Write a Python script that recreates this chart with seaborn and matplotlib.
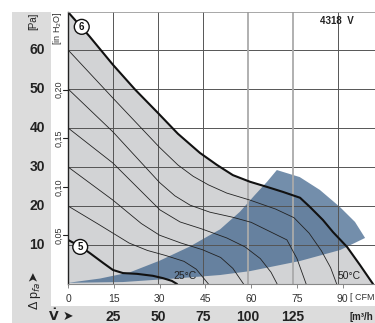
import matplotlib
matplotlib.use('Agg')
import matplotlib.pyplot as plt
import matplotlib.transforms as mtransforms
from matplotlib.patches import Rectangle
import seaborn as sns
import pandas as pd

sns.set_theme(style='white')
plt.rcParams['font.family'] = ['Liberation Sans', 'DejaVu Sans']
plt.rcParams['mathtext.fontset'] = 'dejavusans'

# ---------------- data ----------------
CFM_TICKS = [0, 15, 30, 45, 60, 75, 90]
M3H_LABELS = [25, 50, 75, 100, 125]
M3H_GRID = [25, 50, 75, 100, 125, 150]
PA_LABELS = [10, 20, 30, 40, 50, 60]
INH2O_LABELS = [0.05, 0.10, 0.15, 0.20]

# curve 6 (max speed, 50 degC)
C6_Q = [0, 7, 14.7, 22, 29.5, 36, 43.2, 48.8, 54.0, 59.6, 65.1, 70.4, 76.0, 79.3, 83.5, 86.8, 91.4, 95.6, 99.9]
C6_P = [69.7, 63.5, 56.2, 49.8, 43.8, 38.5, 33.6, 30.5, 27.9, 26.2, 24.9, 23.6, 22.1, 19.7, 16.4, 13.3, 9.5, 4.9, 0]
# intermediate speed curves
L1_Q = [0, 15, 30, 36, 41, 46, 52, 59.6, 68, 74, 79, 83, 86, 88]
L1_P = [60, 47.4, 35, 30.5, 27.6, 25.4, 23.3, 21.5, 19.2, 17.0, 13.0, 8.5, 4.2, 0]
L2_Q = [0, 14.7, 30, 35, 40, 46.5, 54, 60, 65.2, 71.7, 75, 78]
L2_P = [50, 39, 26, 22.6, 20.2, 18.4, 17.1, 15.8, 13.8, 11.3, 6.5, 0]
L3_Q = [0, 14.7, 30.1, 36.7, 43.5, 52, 58, 63, 66.5, 68.5]
L3_P = [40, 31, 19, 15.9, 14.2, 11.8, 9.5, 6.5, 3, 0]
L4_Q = [0, 14.7, 24, 30, 37, 44, 50, 54, 57.5]
L4_P = [30, 21.5, 15.5, 12.5, 10.5, 8.8, 6.8, 4, 0]
L5_Q = [0, 10, 20, 26, 32, 38, 42, 46]
L5_P = [20, 15.3, 10.5, 8.6, 7.3, 5.8, 3.8, 0]
# curve 5 (min speed, 25 degC)
C5_Q = [0, 4.3, 7.2, 11.5, 14.7, 18, 22.6, 27.8, 31.1, 34, 35.7]
C5_P = [11.3, 9.5, 7.9, 5.4, 3.6, 2.8, 2.6, 2.1, 1.5, 0.8, 0]

# operating range (blue area)
BLUE_UPPER_Q = [0, 10.5, 20.3, 30.1, 39.9, 49.8, 56.3, 61.2, 65.2, 68.4]
BLUE_UPPER_P = [0.3, 1.4, 3.0, 6.0, 9.6, 14.0, 18.5, 22.8, 26.2, 29.2]
BLUE_ARC_Q = [68.4, 75.9, 82.5, 89.1, 94.0, 97.3]
BLUE_ARC_P = [29.2, 27.4, 24.1, 19.7, 15.9, 11.8]
BLUE_LOWER_Q = [97.3, 89.1, 76.0, 59.6, 49.8, 36.7, 18.0, 0]
BLUE_LOWER_P = [11.8, 8.7, 5.9, 3.3, 2.3, 1.5, 0.5, 0.3]

CFM_PER_M3H = 1 / 1.699
PA_PER_INH2O = 249.09

W, H = 375, 323
fig = plt.figure(figsize=(W / 100, H / 100), dpi=100)
fig.patch.set_facecolor('white')

# grey label strips
fig.add_artist(Rectangle((12 / W, 1 - 306 / H), (51 - 12) / W, (306 - 12) / H,
                         transform=fig.transFigure, fc='#dcdcdc', ec='none', zorder=0))
fig.add_artist(Rectangle((12 / W, 0), (W - 12) / W, (H - 306) / H,
                         transform=fig.transFigure, fc='#dcdcdc', ec='none', zorder=0))

ax = fig.add_axes([68 / W, (H - 284) / H, (W - 68) / W, (284 - 12) / H])
ax.set_facecolor('white')
ax.set_xlim(0, 100.55)
ax.set_ylim(0, 69.7)

# grey area under max curve
ax.fill_between(C6_Q, C6_P, 0, color='#d2d3d5', lw=0, zorder=1)

# blue operating range
bq = BLUE_UPPER_Q + BLUE_ARC_Q[1:] + BLUE_LOWER_Q[1:]
bp = BLUE_UPPER_P + BLUE_ARC_P[1:] + BLUE_LOWER_P[1:]
ax.fill(bq, bp, color='#385f88', alpha=0.7, lw=0, zorder=2)

# grid
for p in PA_LABELS:
    ax.axhline(p, color='#555555', lw=0.7, zorder=3)
for m in M3H_GRID:
    q = m * CFM_PER_M3H
    if m in (100, 125):
        ax.axvline(q, color='#aaaaaa', lw=1.3, zorder=3)
    else:
        ax.axvline(q, color='#555555', lw=0.7, zorder=3)

# curves
for qs, ps in [(L1_Q, L1_P), (L2_Q, L2_P), (L3_Q, L3_P), (L4_Q, L4_P), (L5_Q, L5_P)]:
    df = pd.DataFrame({'q': qs, 'p': ps})
    sns.lineplot(data=df, x='q', y='p', sort=False, estimator=None, ax=ax,
                 color='#222222', lw=0.6, zorder=4)
for qs, ps in [(C6_Q, C6_P), (C5_Q, C5_P)]:
    df = pd.DataFrame({'q': qs, 'p': ps})
    sns.lineplot(data=df, x='q', y='p', sort=False, estimator=None, ax=ax,
                 color='#111111', lw=1.5, zorder=5)

ax.set_xlabel('')
ax.set_ylabel('')

# spines
for s in ax.spines.values():
    s.set_visible(True)
    s.set_zorder(6)
ax.spines['right'].set_visible(False)
ax.spines['left'].set_color('#222222')
ax.spines['left'].set_linewidth(1.0)
ax.spines['bottom'].set_color('#888888')
ax.spines['bottom'].set_linewidth(0.8)
ax.spines['top'].set_color('#999999')
ax.spines['top'].set_linewidth(0.6)

ax.set_xticks(CFM_TICKS)
ax.set_xticklabels([str(c) for c in CFM_TICKS])
ax.set_yticks([])
ax.tick_params(axis='x', direction='out', length=3, width=0.7, color='#888888',
               labelsize=7.5, labelcolor='#333333', pad=4, bottom=True)
fig.text(350 / W, 1 - 297 / H, '[ CFM', ha='left', va='center', fontsize=6.5, color='#333333')

# pressure labels on the left strip
tr_fig_data = mtransforms.blended_transform_factory(fig.transFigure, ax.transData)
for p in PA_LABELS:
    fig.text(37 / W, p, str(p), transform=tr_fig_data, ha='center', va='center',
             fontsize=10, fontweight='bold', color='#222222')
fig.text(33 / W, 1 - 21 / H, '[Pa]', rotation=90, ha='center', va='center',
         fontsize=7, color='#222222')

# in H2O labels
tr_ax_data = mtransforms.blended_transform_factory(ax.transAxes, ax.transData)
for v in INH2O_LABELS:
    y = v * PA_PER_INH2O
    fig.text(58.5 / W, y, ('%.2f' % v).replace('.', ','), transform=tr_fig_data,
             rotation=90, ha='center', va='center', fontsize=6.5, color='#333333')
    ax.plot([-0.015, 0], [y, y], transform=tr_ax_data, clip_on=False,
            color='#222222', lw=0.8, zorder=6)
fig.text(58 / W, 1 - 28 / H, '[in H$_2$O]', rotation=90, ha='center', va='center',
         fontsize=6.5, color='#333333')

# delta p label
fig.text(33 / W, 1 - 276 / H, '\u27a4', rotation=90, ha='center', va='center',
         fontsize=9, color='#222222', family='DejaVu Sans')
fig.text(35 / W, 1 - 296 / H, '\u0394 p$_{fa}$', rotation=90, ha='center', va='center',
         fontsize=9, color='#222222')

# bottom m3/h labels
tr_data_fig = mtransforms.blended_transform_factory(ax.transData, fig.transFigure)
for m in M3H_LABELS:
    fig.text(m * CFM_PER_M3H, 1 - 317 / H, str(m), transform=tr_data_fig, ha='center',
             va='center', fontsize=10, fontweight='bold', color='#222222')
fig.text(373 / W, 1 - 317 / H, '[m\u00b3/h', ha='right', va='center', fontsize=7,
         fontweight='bold', color='#222222')
fig.text(54 / W, 1 - 316 / H, r'$\mathbf{\dot{V}}$', ha='center', va='center',
         fontsize=9, color='#222222')
fig.text(68 / W, 1 - 316 / H, '\u27a4', ha='center', va='center', fontsize=9,
         color='#222222', family='DejaVu Sans')

# curve markers and texts
circ = dict(boxstyle='circle,pad=0.25', fc='white', ec='#111111', lw=1.0)
ax.text(4.5, 65.9, '6', ha='center', va='center', fontsize=7, fontweight='bold',
        color='#111111', bbox=circ, zorder=7)
ax.text(4.0, 9.5, '5', ha='center', va='center', fontsize=7, fontweight='bold',
        color='#111111', bbox=circ, zorder=7)
ax.text(38.3, 2.1, '25\u00b0C', ha='center', va='center', fontsize=7.5, color='#222222', zorder=7)
ax.text(92, 2.1, '50\u00b0C', ha='center', va='center', fontsize=7.5, color='#222222', zorder=7)
fig.text(337 / W, 1 - 21.5 / H, '4318  V', ha='center', va='center', fontsize=7,
         fontweight='bold', color='#222222')

fig.savefig('out.png', dpi=100, facecolor='white')
